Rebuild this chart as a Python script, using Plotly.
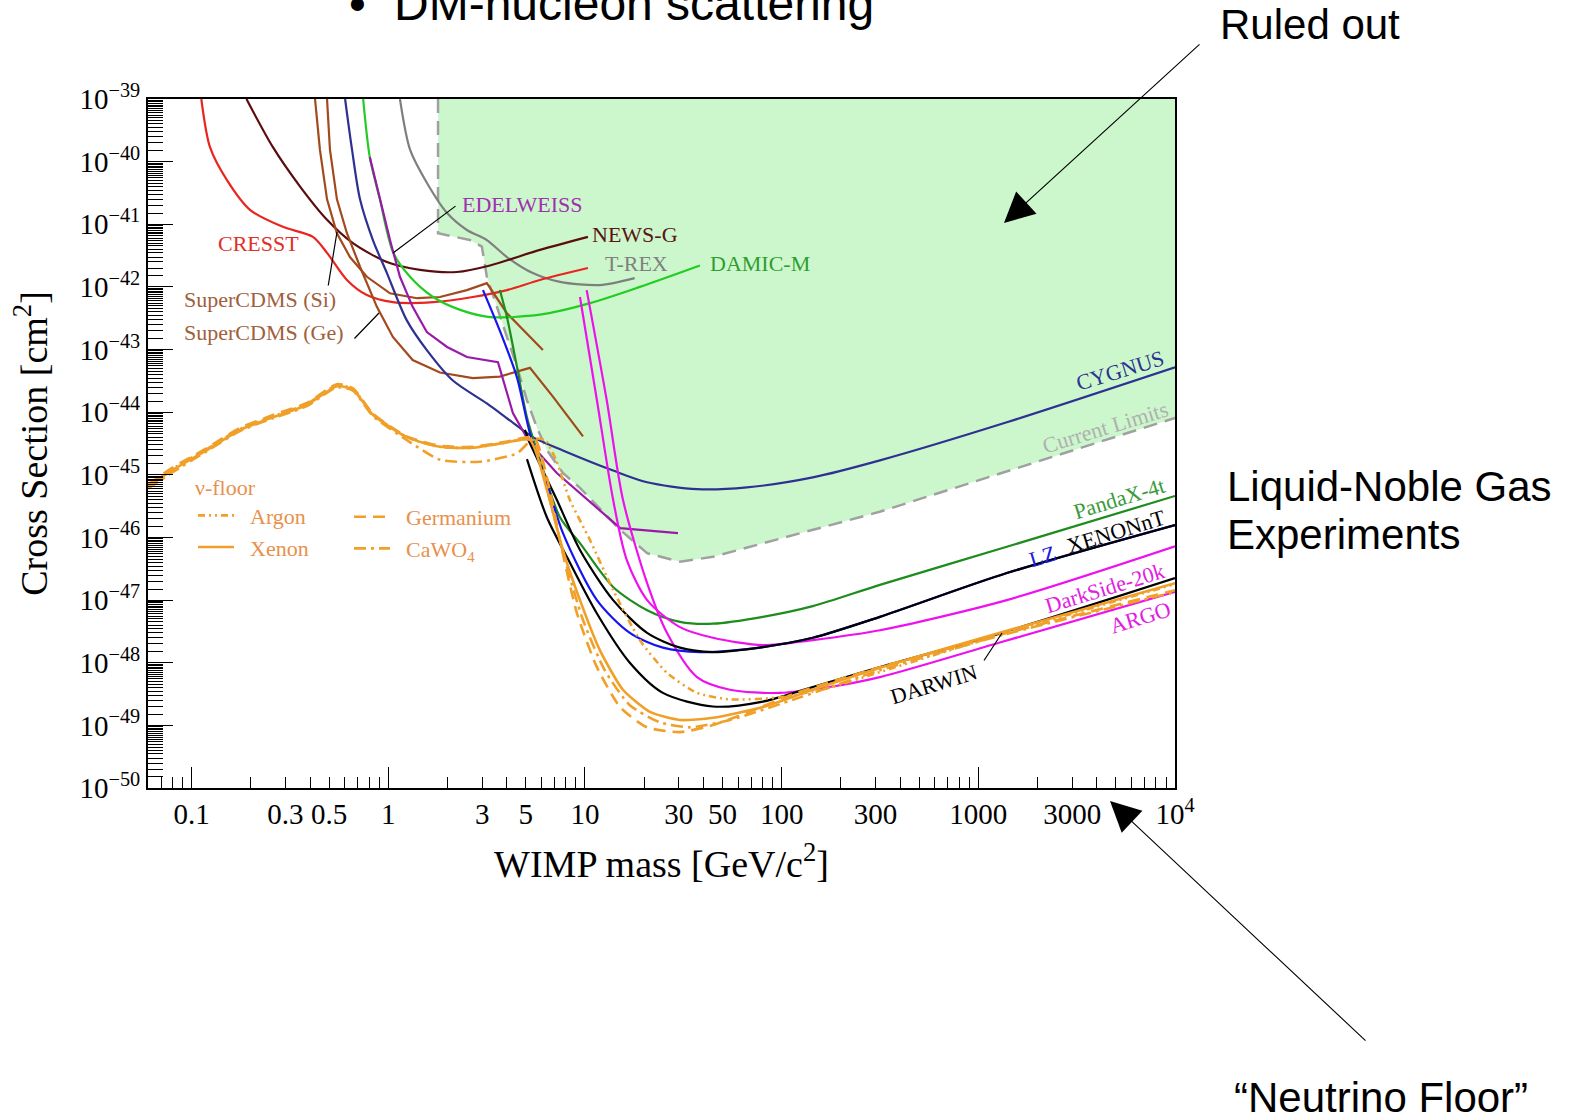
import math
import plotly.graph_objects as go

# ---------------- data (WIMP mass in GeV/c^2, cross section in cm^2) ----------------
Y_TOP = 1e-39

# "Current Limits" boundary of the excluded (green) region
cl_mass = [1.79, 1.79, 2.60, 2.99, 3.17, 3.56, 4.01, 4.51, 5.07, 5.69, 6.40, 7.72, 9.43, 15.1, 20.7, 30.4, 44.7, 315, 10000]
cl_xs = [1e-39, 7.2e-42, 5.6e-42, 4.4e-42, 1.45e-42, 4.8e-43, 1.59e-43, 5.3e-44, 1.55e-44, 5.7e-45, 2.5e-45,
         1.07e-45, 6.2e-46, 1.32e-46, 5.6e-47, 4.1e-47, 4.9e-47, 2.57e-46, 8.1e-45]

cresst_mass = [0.112, 0.124, 0.151, 0.198, 0.291, 0.414, 0.488, 0.616, 0.778, 1.055, 1.69, 2.69, 4.01, 5.90, 10.35]
cresst_xs = [1e-39, 1.7e-40, 5.1e-41, 1.7e-41, 9.1e-42, 6.3e-42, 3.5e-42, 1.29e-42, 7.4e-43, 5.7e-43, 5.7e-43,
             6.9e-43, 8.9e-43, 1.29e-42, 2.0e-42]

newsg_mass = [0.19, 0.259, 0.356, 0.488, 0.661, 0.984, 1.45, 2.23, 3.29, 5.90, 10.35]
newsg_xs = [1e-39, 1.7e-40, 4.0e-41, 1.18e-41, 5.0e-42, 2.5e-42, 1.87e-42, 1.73e-42, 2.2e-42, 3.9e-42, 6.3e-42]

cdms_si_mass = [0.424, 0.449, 0.488, 0.548, 0.638, 0.778, 1.02, 1.40, 1.83, 2.51, 3.17, 4.01, 6.11]
cdms_si_xs = [1e-39, 1.55e-40, 2.5e-41, 7.2e-42, 3.0e-42, 1.45e-42, 7.9e-43, 6.6e-43, 6.9e-43, 8.9e-43, 1.15e-42,
              3.8e-43, 9.8e-44]

cdms_ge_mass = [0.488, 0.505, 0.548, 0.616, 0.718, 0.875, 1.055, 1.33, 1.83, 2.69, 3.69, 5.25, 6.87, 9.77]
cdms_ge_xs = [1e-39, 1.55e-40, 2.5e-41, 7.2e-42, 2.1e-42, 4.8e-43, 1.59e-43, 6.8e-44, 4.3e-44, 3.5e-44, 3.7e-44,
              5.1e-44, 1.77e-44, 4.1e-45]

cygnus_mass = [0.603, 0.654, 0.718, 0.835, 0.984, 1.24, 1.57, 2.13, 3.17, 4.15, 5.43, 7.72, 13.9, 20.7, 37.1,
               66.5, 144, 316, 1396, 10000]
cygnus_xs = [1e-39, 1.55e-40, 2.5e-41, 5.6e-42, 1.66e-42, 2.95e-43, 9.8e-44, 3.2e-44, 1.38e-44, 7.4e-45, 4.0e-45,
             2.45e-45, 1.17e-45, 7.6e-46, 5.9e-46, 6.3e-46, 9.1e-46, 1.70e-45, 6.9e-45, 5.2e-44]

edelweiss_mass = [0.805, 0.906, 1.02, 1.146, 1.33, 1.57, 1.99, 2.51, 3.61, 4.30, 5.25, 7.19, 9.43, 15.1, 29.7]
edelweiss_xs = [1.18e-40, 2.5e-41, 5.6e-42, 1.45e-42, 4.8e-43, 1.9e-43, 1.10e-43, 7.6e-44, 6.3e-44, 9.7e-45,
                3.2e-45, 1.07e-45, 5.1e-46, 1.41e-46, 1.17e-46]

damic_mass = [0.745, 0.805, 0.906, 1.06, 1.29, 1.69, 2.32, 3.29, 5.90, 10.6, 19.0, 38.4]
damic_xs = [1e-39, 1.18e-40, 2.5e-41, 3.5e-42, 1.45e-42, 6.9e-43, 4.3e-43, 3.3e-43, 3.6e-43, 5.5e-43, 1.0e-42, 2.2e-42]

trex_mass = [1.146, 1.29, 1.57, 1.99, 2.51, 3.17, 4.01, 5.43, 7.46, 11.9, 17.9]
trex_xs = [1e-39, 1.55e-40, 4.6e-41, 1.51e-41, 8.1e-42, 5.6e-42, 3.0e-42, 1.66e-42, 1.20e-42, 1.07e-42, 1.38e-42]

pandax_mass = [3.69, 4.01, 4.51, 5.07, 5.90, 7.46, 9.43, 13.9, 20.7, 30.4, 44.7, 80.3, 144, 316, 1396, 10000]
pandax_xs = [8.9e-43, 3.3e-43, 5.3e-44, 8.3e-45, 1.73e-45, 2.1e-46, 8.1e-47, 1.62e-47, 6.9e-48, 4.5e-48, 4.2e-48,
             5.4e-48, 8.0e-48, 1.75e-47, 7.1e-47, 4.6e-46]

lz_mass = [3.03, 3.69, 4.51, 5.25, 6.40, 7.72, 11.5, 16.9, 24.9, 38.4, 80.3, 144, 316, 1396, 10000]
lz_xs = [8.9e-43, 2.0e-43, 3.6e-44, 4.6e-45, 7.4e-46, 1.18e-46, 1.0e-47, 3.0e-48, 1.74e-48, 1.48e-48, 1.78e-48,
         2.5e-48, 5.4e-48, 2.7e-47, 1.58e-46]

xenonnt_mass = [4.95, 5.25, 7.19, 9.43, 13.9, 20.7, 30.4, 44.7, 80.3, 144, 316, 1396, 10000]
xenonnt_xs = [5.2e-45, 3.2e-45, 4.0e-46, 6.3e-47, 1.0e-47, 3.0e-48, 1.74e-48, 1.48e-48, 1.78e-48, 2.5e-48, 5.4e-48,
              2.7e-47, 1.58e-46]

darwin_mass = [5.07, 6.40, 8.09, 11.5, 16.9, 24.9, 44.7, 80.3, 144, 316, 1318, 10000]
darwin_xs = [1.78e-45, 2.1e-46, 4.9e-47, 6.1e-48, 1.0e-48, 3.3e-49, 2.0e-49, 2.4e-49, 4.1e-49, 8.5e-49, 3.0e-48, 2.24e-47]

darkside_mass = [9.43, 11.5, 13.9, 16.3, 20.7, 30.4, 44.7, 80.3, 144, 316, 1396, 10000]
darkside_xs = [6.9e-43, 1.55e-44, 4.0e-46, 4.4e-47, 1.0e-47, 3.7e-48, 2.5e-48, 1.91e-48, 2.3e-48, 3.3e-48, 1.0e-47, 7.2e-47]

argo_mass = [10.2, 12.9, 15.6, 20.7, 26.1, 37.1, 54.6, 97.7, 175, 316, 1285, 10000]
argo_xs = [8.9e-43, 1.55e-44, 4.0e-46, 1.86e-47, 3.0e-48, 5.9e-49, 3.7e-49, 3.3e-49, 4.1e-49, 5.9e-49, 2.1e-48, 1.35e-47]

# neutrino floors
argon_mass = [0.060, 0.080, 0.120, 0.176, 0.259, 0.385, 0.548, 0.661, 0.835, 1.24, 1.83, 2.69, 4.01, 5.25, 6.25,
              7.11, 8.37, 10.6, 13.9, 19.0, 26.1, 37.1, 54.6, 97.7, 175, 316, 1288, 10000]
argon_xs = [6.6e-46, 1.25e-45, 2.6e-45, 5.4e-45, 8.6e-45, 1.35e-44, 2.7e-44, 2.35e-44, 9.3e-45, 4.0e-45, 2.8e-45,
            2.7e-45, 3.3e-45, 3.8e-45, 3.6e-45, 1.74e-45, 4.0e-46, 9.1e-47, 1.45e-47, 2.3e-48, 6.9e-49, 3.3e-49,
            2.6e-49, 2.8e-49, 4.0e-49, 7.1e-49, 2.8e-48, 1.8e-47]

xenon_mass = [0.060, 0.080, 0.120, 0.176, 0.259, 0.385, 0.548, 0.661, 0.835, 1.24, 1.83, 2.69, 4.01, 5.25, 6.40,
              7.72, 9.43, 11.9, 15.6, 21.4, 30.4, 44.7, 80.3, 144, 316, 1288, 10000]
xenon_xs = [6.4e-46, 1.2e-45, 2.5e-45, 5.2e-45, 8.3e-45, 1.3e-44, 2.6e-44, 2.3e-44, 9.1e-45, 4.0e-45, 2.8e-45,
            2.7e-45, 3.3e-45, 3.6e-45, 5.8e-46, 6.3e-47, 1.0e-47, 1.59e-48, 3.7e-49, 1.64e-49, 1.22e-49, 1.32e-49,
            1.96e-49, 3.7e-49, 8.3e-49, 3.0e-48, 1.86e-47]

germanium_mass = [0.060, 0.080, 0.120, 0.176, 0.259, 0.385, 0.548, 0.661, 0.835, 1.24, 1.83, 2.69, 4.01, 5.5,
                  6.62, 7.45, 9.10, 11.5, 15.1, 20.7, 30.4, 44.7, 66.5, 119, 316, 1288, 10000]
germanium_xs = [7.0e-46, 1.3e-45, 2.7e-45, 5.6e-45, 9.0e-45, 1.4e-44, 2.8e-44, 2.4e-44, 9.5e-45, 4.1e-45, 2.9e-45,
                2.8e-45, 3.4e-45, 3.9e-45, 5.8e-46, 9.1e-47, 6.2e-48, 8.5e-49, 1.95e-49, 9.3e-50, 7.8e-50, 1.01e-49,
                1.59e-49, 3.3e-49, 8.5e-49, 2.8e-48, 1.44e-47]

cawo4_mass = [0.060, 0.080, 0.120, 0.176, 0.259, 0.385, 0.548, 0.661, 0.835, 1.24, 1.83, 2.92, 4.51, 5.43, 6.62,
              7.91, 9.77, 12.6, 16.9, 24.0, 34.2, 54.6, 124, 316, 1288, 10000]
cawo4_xs = [6.0e-46, 1.1e-45, 2.4e-45, 5.0e-45, 8.0e-45, 1.25e-44, 2.5e-44, 2.2e-44, 8.7e-45, 3.6e-45, 1.74e-45,
            1.62e-45, 2.2e-45, 3.6e-45, 4.0e-46, 4.4e-47, 4.8e-48, 7.6e-49, 2.1e-49, 1.12e-49, 9.3e-50, 1.22e-49,
            2.8e-49, 7.6e-49, 2.7e-48, 1.35e-47]

# tick labels
x_label_vals = [0.1, 0.3, 0.5, 1, 3, 5, 10, 30, 50, 100, 300, 1000, 3000, 10000]
x_label_text = ["0.1", "0.3", "0.5", "1", "3", "5", "10", "30", "50", "100", "300", "1000", "3000", "10<sup>4</sup>"]
y_exponents = [-39, -40, -41, -42, -43, -44, -45, -46, -47, -48, -49, -50]

# ---------------- layout helpers ----------------
W, H = 1578, 1117
ML, MR, MT, MB = 148, 403, 99, 329
PW, PH = W - ML - MR, H - MT - MB


def px(X):
    return (X - ML) / PW


def py(Y):
    return (H - MB - Y) / PH


SERIF = "Liberation Serif"
SANS = "Liberation Sans"
ORANGE = "#f0a028"
ORANGE_TXT = "#e8904c"
GAP = "\u00a0\u00a0"

fig = go.Figure()

# excluded region
fig.add_trace(go.Scatter(x=cl_mass + [cl_mass[-1], cl_mass[0]], y=cl_xs + [Y_TOP, Y_TOP],
                         fill="toself", fillcolor="#ccf7cc", line=dict(width=0),
                         mode="lines", hoverinfo="skip", showlegend=False))
fig.add_trace(go.Scatter(x=cl_mass, y=cl_xs, mode="lines",
                         line=dict(color="#a0a0a0", width=2.5, dash="14px,8px"),
                         showlegend=False))


def curve(xv, yv, color, width=2.2, shape="spline", dash="solid"):
    fig.add_trace(go.Scatter(x=xv, y=yv, mode="lines",
                             line=dict(color=color, width=width, shape=shape, dash=dash,
                                       smoothing=0.8 if shape == "spline" else None),
                             showlegend=False))


curve(trex_mass, trex_xs, "#7f7f7f")
curve(newsg_mass, newsg_xs, "#5b0d0d")
curve(cresst_mass, cresst_xs, "#e8251f")
curve(cdms_si_mass, cdms_si_xs, "#a24a1c", shape="linear")
curve(cdms_ge_mass, cdms_ge_xs, "#a24a1c", shape="linear")
curve(cygnus_mass, cygnus_xs, "#2e3192")
curve(damic_mass, damic_xs, "#22cc22")
curve(edelweiss_mass, edelweiss_xs, "#9a1aa8", shape="linear")
curve(pandax_mass, pandax_xs, "#1e8c1e")
curve(darkside_mass, darkside_xs, "#ee11ee")
curve(argo_mass, argo_xs, "#ee11ee")
curve(lz_mass, lz_xs, "#1515ee")
curve(xenonnt_mass, xenonnt_xs, "#000000")
curve(darwin_mass, darwin_xs, "#000000")

# neutrino floors (legend entries)
floors = [
    ("Argon", argon_mass, argon_xs, "7px,4px,2px,4px,2px,4px", "legend", 1),
    ("Xenon", xenon_mass, xenon_xs, "solid", "legend", 2),
    ("Germanium", germanium_mass, germanium_xs, "12px,7px", "legend2", 1),
    ("CaWO<sub>4</sub>", cawo4_mass, cawo4_xs, "12px,5px,3px,5px", "legend2", 2),
]
for name, xv, yv, dash, leg, rank in floors:
    fig.add_trace(go.Scatter(x=xv, y=yv, mode="lines", name=GAP + name, legend=leg, legendrank=rank,
                             line=dict(color=ORANGE, width=2.6, dash=dash, shape="spline", smoothing=0.6)))

# invisible copy of a series so that the labelled overlay axis is drawn
fig.add_trace(go.Scatter(x=xenon_mass, y=xenon_xs, xaxis="x2", mode="lines", opacity=0,
                         line=dict(width=0), hoverinfo="skip", showlegend=False))

# ---------------- axes ----------------
x_minor = [k * 10 ** e for e in range(-2, 4) for k in range(2, 10) if 0.06 <= k * 10 ** e <= 10000]
y_minor = [k / 2 * 10.0 ** e for e in range(-50, -39) for k in range(3, 20)]
y_major = [10.0 ** e for e in y_exponents]
y_text = ["10<sup>\u2212%d</sup>" % (-e) for e in y_exponents]

xrange = [math.log10(0.06), 4]
fig.update_layout(
    width=W, height=H,
    margin=dict(l=ML, r=MR, t=MT, b=MB, autoexpand=False),
    plot_bgcolor="white", paper_bgcolor="white",
    font=dict(family=SERIF, color="black"),
    xaxis=dict(type="log", range=xrange, showline=True, linecolor="black", linewidth=2, mirror=True,
               showgrid=False, zeroline=False,
               tickmode="array", tickvals=[0.1, 1, 10, 100, 1000, 10000], ticks="inside", ticklen=21,
               tickwidth=1.3, tickcolor="black", showticklabels=False,
               minor=dict(tickmode="array", tickvals=x_minor, ticks="inside", ticklen=11, tickwidth=1.1,
                          tickcolor="black", showgrid=False),
               title=dict(text="WIMP mass [GeV/c<sup>2</sup>]", font=dict(family=SERIF, size=38), standoff=61)),
    xaxis2=dict(type="log", range=xrange, overlaying="x", anchor="y", side="bottom", showline=False,
                showgrid=False, zeroline=False, tickmode="array", tickvals=x_label_vals, ticktext=x_label_text,
                ticks="", ticklabelstandoff=6, tickfont=dict(family=SERIF, size=29, color="black")),
    yaxis=dict(type="log", range=[-50, -39], showline=True, linecolor="black", linewidth=2, mirror=True,
               showgrid=False, zeroline=False,
               tickmode="array", tickvals=y_major, ticktext=y_text, ticks="inside", ticklen=25, tickwidth=1.3,
               tickcolor="black", tickfont=dict(family=SERIF, size=29, color="black"),
               minor=dict(tickmode="array", tickvals=y_minor, ticks="inside", ticklen=15, tickwidth=1,
                          tickcolor="black", showgrid=False),
               title=dict(text="Cross Section [cm<sup>2</sup>]", font=dict(family=SERIF, size=38), standoff=20)),
    legend=dict(x=px(193), y=py(466), xanchor="left", yanchor="top", bgcolor="rgba(0,0,0,0)",
                font=dict(family=SERIF, size=22, color=ORANGE_TXT), tracegroupgap=0, itemwidth=36,
                title=dict(text="\u03bd-floor", font=dict(family=SERIF, size=22, color=ORANGE_TXT))),
    legend2=dict(x=px(349), y=py(496), xanchor="left", yanchor="top", bgcolor="rgba(0,0,0,0)",
                 font=dict(family=SERIF, size=22, color=ORANGE_TXT), tracegroupgap=0, itemwidth=36),
)

ann = []


def label(text, X, Y, color, size=22, angle=0, xanchor="center", family=SERIF):
    ann.append(dict(text=text, x=px(X), y=py(Y), xref="paper", yref="paper", showarrow=False,
                    xanchor=xanchor, yanchor="middle", textangle=angle,
                    font=dict(family=family, size=size, color=color)))


def leader(tipX, tipY, tailX, tailY, width=1.2, head=0, size=1):
    ann.append(dict(text="", x=px(tipX), y=py(tipY), xref="paper", yref="paper", showarrow=True,
                    ax=tailX - tipX, ay=tailY - tipY, axref="pixel", ayref="pixel",
                    arrowhead=head, arrowsize=size, arrowwidth=width, arrowcolor="black",
                    font=dict(size=1)))


label("CRESST", 216, 243, "#e0302a", xanchor="left")
label("SuperCDMS (Si)", 182, 299, "#a0603c", xanchor="left")
label("SuperCDMS (Ge)", 182, 332, "#a0603c", xanchor="left")
label("EDELWEISS", 460, 204, "#a030b0", xanchor="left")
label("NEWS-G", 590, 235, "#5a1414", xanchor="left")
label("T-REX", 603, 263, "#808080", xanchor="left")
label("DAMIC-M", 708, 263, "#2e9e2e", xanchor="left")
label("CYGNUS", 1120, 371, "#2e3192", angle=-17)
label("Current Limits", 1105, 427, "#b0b0b0", angle=-17)
label("PandaX-4t", 1119, 498, "#3a9a3a", angle=-17)
label("LZ", 1042, 556, "#2020e0", angle=-17)
label("XENONnT", 1116, 531, "black", angle=-17)
label("DarkSide-20k", 1104, 588, "#e020e0", angle=-17)
label("ARGO", 1140, 617, "#e020e0", angle=-17)
label("DARWIN", 933, 684, "black", angle=-17)

leader(393, 253, 457, 205)
leader(337, 232, 328, 287)
leader(379, 313, 353, 340)
leader(1002, 633, 983, 662)

# slide text
ann.append(dict(text="\u2022", x=px(357), y=py(32), xref="paper", yref="paper", showarrow=False,
                xanchor="center", yanchor="bottom", font=dict(family=SANS, size=48, color="black")))
ann.append(dict(text="DM-nucleon scattering", x=px(392), y=py(32), xref="paper", yref="paper", showarrow=False,
                xanchor="left", yanchor="bottom", font=dict(family=SANS, size=48, color="black")))
ann.append(dict(text="Ruled out", x=px(1218), y=py(50), xref="paper", yref="paper", showarrow=False,
                xanchor="left", yanchor="bottom", font=dict(family=SANS, size=42, color="black")))
ann.append(dict(text="Liquid-Noble Gas", x=px(1225), y=py(512), xref="paper", yref="paper", showarrow=False,
                xanchor="left", yanchor="bottom", font=dict(family=SANS, size=42, color="black")))
ann.append(dict(text="Experiments", x=px(1225), y=py(560), xref="paper", yref="paper", showarrow=False,
                xanchor="left", yanchor="bottom", font=dict(family=SANS, size=42, color="black")))
ann.append(dict(text="\u201cNeutrino Floor\u201d", x=px(1232), y=py(1123), xref="paper", yref="paper",
                showarrow=False, xanchor="left", yanchor="bottom",
                font=dict(family=SANS, size=42, color="black")))

# arrows
leader(1004, 223, 1201, 43, width=1.1, head=2, size=5.5)
leader(1110, 801, 1367, 1042, width=1.1, head=2, size=5.5)

fig.update_layout(annotations=ann)
fig.write_html("out.html")
